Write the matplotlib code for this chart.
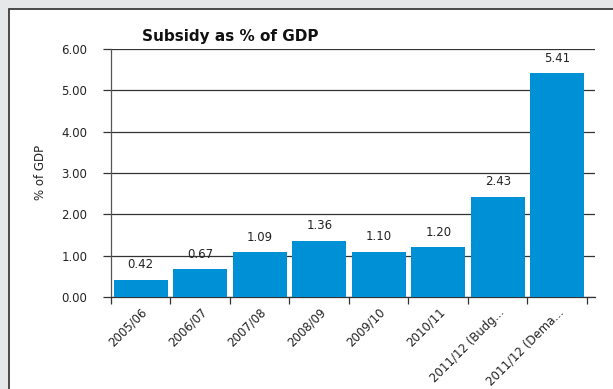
import matplotlib
matplotlib.use("Agg")
import matplotlib.pyplot as plt
from matplotlib.patches import Rectangle
import numpy as np

categories = ["2005/06", "2006/07", "2007/08", "2008/09", "2009/10", "2010/11",
              "2011/12 (Budg...", "2011/12 (Dema..."]
values = [0.42, 0.67, 1.09, 1.36, 1.10, 1.20, 2.43, 5.41]
yticks = [0, 1, 2, 3, 4, 5, 6]
title = "Subsidy as % of GDP"
ylabel = "% of GDP"

W, H = 613, 389
fig = plt.figure(figsize=(W / 100, H / 100), dpi=100)
fig.patch.set_facecolor("#e6e7e8")
# white panel with dark border
panel = Rectangle((9 / W, -0.1), 1.2, 1.1 - 9 / H, transform=fig.transFigure,
                  facecolor="white", edgecolor="#3c3c3c", linewidth=1.3, zorder=-10)
fig.add_artist(panel)

ax = fig.add_axes([111 / W, 92 / H, 484 / W, 248 / H])
ax.set_facecolor("none")
x = np.arange(len(categories))
ax.bar(x, values, width=0.91, color="#0090d6", zorder=3)
for xi, v in zip(x, values):
    ax.annotate(f"{v:.2f}", (xi, v), xytext=(0, 6), textcoords="offset points",
                ha="center", va="bottom", fontsize=8.5, color="#222222")

ax.set_ylim(0, 6)
ax.set_xlim(-0.5, 7.5 + 8 / 59.4)
ax.set_yticks(yticks)
ax.set_yticklabels([f"{t:.2f}" for t in yticks], fontsize=8.5, color="#222222")
ax.yaxis.grid(True, color="#333333", linewidth=0.9, zorder=0)
ax.set_axisbelow(True)
ax.tick_params(axis="y", length=6, width=0.9, pad=11, color="#333333")

ax.set_xticks(x)
ax.set_xticklabels(categories, rotation=45, ha="right", rotation_mode="anchor",
                   fontsize=8.5, color="#222222")
ax.tick_params(axis="x", which="major", length=0, pad=6)
ax.set_xticks(np.arange(-0.5, 8, 1), minor=True)
ax.tick_params(axis="x", which="minor", length=5, width=0.9, color="#333333")

for s in ["top", "right"]:
    ax.spines[s].set_visible(False)
ax.spines["left"].set_color("#555555")
ax.spines["bottom"].set_color("#333333")
ax.spines["left"].set_linewidth(0.9)
ax.spines["bottom"].set_linewidth(0.9)

fig.text(40 / W, 1 - 172 / H, ylabel, rotation=90, ha="center", va="center",
         fontsize=8.5, color="#222222")
fig.text(142 / W, 1 - 36 / H, title, ha="left", va="center", fontsize=11,
         fontweight="bold", color="#111111")

fig.savefig("out.png", dpi=100, facecolor=fig.get_facecolor())
